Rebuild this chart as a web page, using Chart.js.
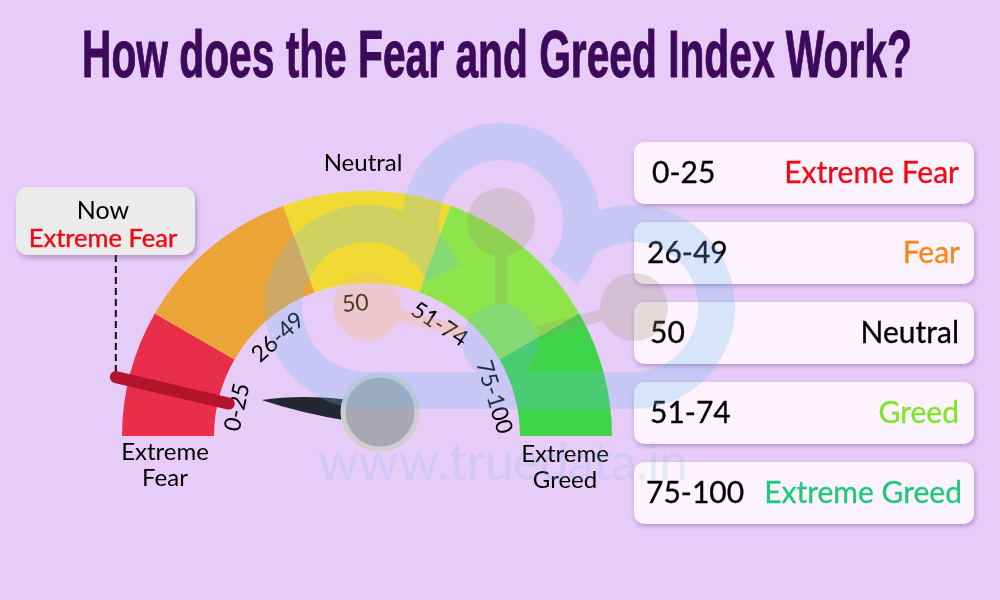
<!DOCTYPE html>
<html lang="en">
<head>
<meta charset="UTF-8" />
<title>How does the Fear and Greed Index Work?</title>
<style>
  body { margin: 0; background: #e8ccf8; font-family: 'Lato', sans-serif; color: #000; }
  #page { position: relative; width: 1000px; height: 600px; overflow: hidden; }
  #gauge { position: absolute; left: 0; top: 0; }
  h1 {
    position: absolute; left: 82px; top: 13px; margin: 0;
    font: bold 66px 'Liberation Sans', sans-serif; -webkit-text-stroke: 1px #3d0a5b;
    line-height: 82px; color: #3d0a5b; white-space: nowrap; transform-origin: 0 0;
  }
  .lbl { position: absolute; font-size: 24px; line-height: 26px; text-align: center; transform: translateX(-50%); white-space: nowrap; }
  .card {
    position: absolute; left: 634px; width: 340px; height: 62px; border-radius: 10px;
    background: #fdf3fe; box-shadow: 1px 2px 5px rgba(90,50,120,.4);
    font-size: 30px; line-height: 58px; -webkit-text-stroke: .3px;
  }
  .card span { position: absolute; white-space: nowrap; }
  #now {
    position: absolute; left: 16px; top: 187px; width: 174px; padding-right: 5px; height: 68px; border-radius: 12px;
    background: #ebebeb; box-shadow: 2px 3px 5px rgba(90,50,120,.35); text-align: center;
  }
  #now div { line-height: 28px; }
  #now div:first-child { margin-top: 8px; font-size: 25px; }
  #now div:last-child { color: #ee0a14; font-size: 25.5px; -webkit-text-stroke: .4px; }
  #mark { position: absolute; left: 0; top: 0; z-index: 5; pointer-events: none; }
</style>
</head>
<body>
<div id="page">
  <canvas id="gauge" width="1000" height="600"></canvas>
  <h1 id="title">How does the Fear and Greed Index Work?</h1>
  <div class="lbl" style="left:363px;top:149px">Neutral</div>
  <div class="lbl" style="left:165px;top:438px">Extreme<br>Fear</div>
  <div class="lbl" style="left:565px;top:440px">Extreme<br>Greed</div>
  <div id="now"><div>Now</div><div>Extreme Fear</div></div>
  <div id="cards"></div>
  <!-- watermark sits over everything, like in the picture -->
  <svg id="mark" width="1000" height="600">
    <g opacity=".25" fill="none" stroke="rgb(110,185,235)" stroke-width="37">
      <path d="M367 390.5A83.5 83.5 0 1 1 443.3 273" />
      <path d="M428 256A80.5 80.5 0 1 1 563.6 272.7" />
      <path d="M574 248A83.5 83.5 0 1 1 633 390.5" />
      <path d="M367 390.5H633" />
      <circle cx="500" cy="342" r="38" fill="rgb(110,185,235)" stroke="none" />
    </g>
    <g opacity=".25" fill="rgb(150,150,110)">
      <path d="M501 222V304M634 307L537 332" stroke="rgb(150,150,110)" stroke-width="12" />
      <circle cx="501" cy="222" r="34" />
      <circle cx="634" cy="307" r="34" />
    </g>
    <g opacity=".3" fill="rgb(245,190,113)">
      <path d="M367 307L464 332" stroke="rgb(245,190,113)" stroke-width="12" />
      <circle cx="367" cy="307" r="34" />
    </g>
    <text x="318" y="480" font-family="Lato" font-size="52" textLength="370" fill="rgb(110,185,235)" opacity=".18">www.truedata.in</text>
  </svg>
</div>

<script src="https://cdn.jsdelivr.net/npm/chart.js"></script>
<script>
  // Gauge bands, width of each band in degrees of the half circle
  const bandSpans = [30, 40, 40, 40, 30];
  const bandColors = ['#e82e4a', '#eba537', '#f0da33', '#8de44b', '#3fd34a'];
  const rangeLabels = ['0-25', '26-49', '50', '51-74', '75-100'];
  const moodLabels = ['Extreme Fear', 'Fear', 'Neutral', 'Greed', 'Extreme Greed'];
  const moodColors = ['#ee0a14', '#f98514', '#000', '#7fe52b', '#1fc77f'];

  // Readings, degrees from the left end of the gauge
  const markerReading = 13.2;
  const needleReading = 5.8;

  // Small nudges so the range labels sit where they do in the picture
  const labelShift = [-2.5, -2, -5, -7, -2];
  const cardLeft = [18, 13, 16, 16, 12];
  const cardRight = [15, 14, 15, 15, 12];

  // no condensed font here, so squeeze the title to its width
  const title = document.getElementById('title');
  title.style.transform = 'scaleX(' + (830 / title.offsetWidth) + ')';

  rangeLabels.forEach((range, i) => {
    const card = document.createElement('div');
    card.className = 'card';
    card.style.top = (142 + i * 80) + 'px';
    card.innerHTML = '<span style="left:' + cardLeft[i] + 'px">' + range + '</span>' +
      '<span style="right:' + cardRight[i] + 'px;color:' + moodColors[i] + '">' + moodLabels[i] + '</span>';
    document.getElementById('cards').appendChild(card);
  });

  const gaugeExtras = {
    id: 'gaugeExtras',
    afterDatasetsDraw(chart) {
      const ctx = chart.ctx;
      const arc = chart.getDatasetMeta(0).data[0];
      const cx = arc.x, cy = arc.y, inner = arc.innerRadius;

      // range labels along the inner edge
      ctx.save();
      ctx.font = '23px Lato';
      ctx.fillStyle = '#000';
      ctx.textAlign = 'center';
      ctx.textBaseline = 'middle';
      let from = 0;
      rangeLabels.forEach((text, i) => {
        const deg = from + bandSpans[i] / 2 + labelShift[i];
        const rad = deg * Math.PI / 180;
        from += bandSpans[i];
        ctx.save();
        ctx.translate(cx - Math.cos(rad) * (inner - 20), cy - Math.sin(rad) * (inner - 20));
        ctx.rotate((deg - 90) * Math.PI / 180);
        ctx.fillText(text, 0, 0);
        ctx.restore();
      });
      ctx.restore();

      // red marker and the dashed lead up to the Now box
      const m = markerReading * Math.PI / 180;
      const mx = cx - Math.cos(m) * 258, my = cy - Math.sin(m) * 258;
      ctx.save();
      ctx.strokeStyle = '#111';
      ctx.lineWidth = 2;
      ctx.setLineDash([7, 4]);
      ctx.beginPath();
      ctx.moveTo(mx, 255);
      ctx.lineTo(mx, my);
      ctx.stroke();
      ctx.setLineDash([]);
      ctx.strokeStyle = '#b5142f';
      ctx.lineWidth = 12;
      ctx.lineCap = 'round';
      ctx.beginPath();
      ctx.moveTo(mx, my);
      ctx.lineTo(cx - Math.cos(m) * 142, cy - Math.sin(m) * 142);
      ctx.stroke();
      ctx.restore();

      // needle, pivots on the hub which sits a bit off the gauge centre
      const px = cx + 13, py = cy - 24;
      ctx.save();
      ctx.translate(px, py);
      ctx.rotate(needleReading * Math.PI / 180);
      ctx.fillStyle = '#222733';
      ctx.beginPath();
      ctx.moveTo(-119, 0);
      ctx.quadraticCurveTo(-80, -10, -30, -9);
      ctx.lineTo(-30, 12);
      ctx.quadraticCurveTo(-80, 9, -119, 0);
      ctx.fill();
      ctx.restore();
      ctx.beginPath();
      ctx.arc(px, py, 37, 0, Math.PI * 2);
      ctx.fillStyle = '#a8a8b4';
      ctx.strokeStyle = '#cfcfd2';
      ctx.lineWidth = 5;
      ctx.fill();
      ctx.stroke();
    }
  };

  new Chart(document.getElementById('gauge'), {
    type: 'doughnut',
    data: {
      labels: moodLabels,
      datasets: [{ data: bandSpans, backgroundColor: bandColors, borderWidth: 0 }]
    },
    options: {
      responsive: false,
      animation: false,
      rotation: -90,
      circumference: 180,
      cutout: '62.45%',
      layout: { padding: { left: 122, right: 388, top: 191, bottom: 164 } },
      plugins: { legend: { display: false }, tooltip: { enabled: false } }
    },
    plugins: [gaugeExtras]
  });
</script>
</body>
</html>
